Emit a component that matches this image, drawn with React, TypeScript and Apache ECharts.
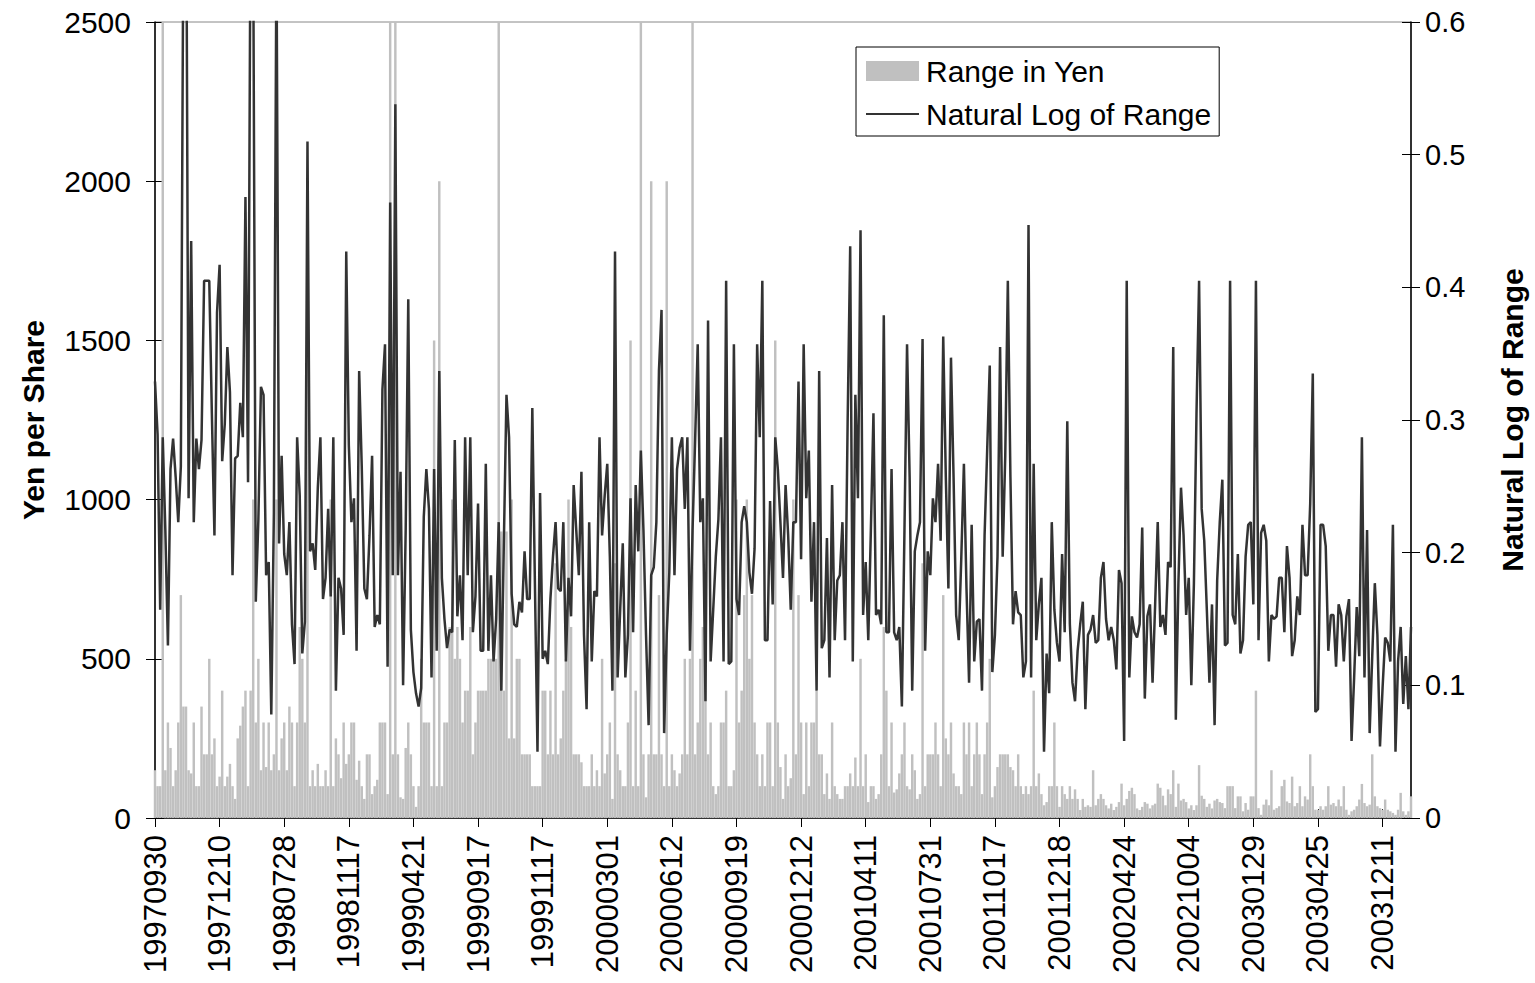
import React, { useEffect, useRef } from 'react';
import * as echarts from 'echarts';

const tickLabels = [
  '19970930', '19971210', '19980728', '19981117', '19990421', '19990917', '19991117',
  '20000301', '20000612', '20000919', '20001212', '20010411', '20010731', '20011017',
  '20011218', '20020424', '20021004', '20030129', '20030425', '20031211',
];

const rangeYen = [
  // 0-71
  150, 100, 100, 2600, 150, 300, 220, 100, 150, 300, 700, 350, 350, 150, 140, 300, 100, 100, 350, 200,
  200, 500, 200, 250, 100, 130, 400, 100, 130, 170, 100, 60, 250, 290, 350, 400, 100, 400, 1000, 300,
  500, 150, 300, 160, 300, 150, 200, 1000, 150, 250, 300, 150, 350, 300, 100, 300, 600, 500, 300, 2000,
  100, 150, 100, 170, 100, 100, 150, 100, 1000, 100, 250, 200,
  // 72-145
  125, 300, 170, 200, 300, 300, 120, 180, 100, 60, 200, 200, 75, 100, 120, 300, 300, 300, 75, 2600,
  200, 2600, 200, 65, 60, 220, 300, 200, 100, 35, 100, 500, 300, 300, 300, 100, 1500, 100, 2000, 100,
  300, 300, 600, 1000, 500, 600, 500, 300, 400, 400, 600, 200, 300, 400, 400, 400, 400, 500, 500, 500,
  500, 2600, 900, 400, 900, 250, 1000, 250, 500, 500, 200, 200, 200, 200,
  // 146-219
  100, 100, 100, 100, 400, 400, 200, 400, 200, 800, 200, 250, 400, 500, 1000, 600, 200, 200, 200, 175,
  100, 100, 100, 200, 100, 150, 100, 500, 140, 200, 300, 60, 800, 200, 150, 100, 100, 300, 1500, 100,
  400, 100, 2600, 200, 65, 200, 2000, 200, 200, 700, 200, 100, 2000, 100, 200, 150, 100, 140, 200, 500,
  200, 500, 2600, 200, 300, 500, 600, 700, 200, 300, 100, 75, 100, 300,
  // 220-292
  300, 400, 100, 100, 150, 1000, 300, 400, 700, 1000, 500, 700, 300, 200, 100, 200, 100, 300, 300, 100,
  1500, 300, 160, 60, 200, 100, 125, 1000, 200, 700, 300, 75, 300, 100, 300, 300, 400, 200, 200, 75,
  140, 60, 300, 100, 75, 60, 60, 100, 100, 140, 100, 190, 100, 500, 100, 200, 50, 100, 100, 60,
  75, 200, 600, 400, 100, 300, 80, 90, 140, 200, 300, 100, 90,
  // 293-366
  200, 150, 60, 75, 800, 100, 200, 200, 200, 300, 200, 100, 700, 250, 200, 300, 140, 100, 100, 75,
  300, 200, 300, 100, 200, 300, 200, 75, 200, 300, 500, 65, 100, 160, 200, 200, 200, 200, 160, 150,
  100, 200, 100, 75, 100, 75, 100, 400, 100, 140, 75, 40, 50, 100, 100, 300, 100, 35, 100, 75,
  60, 100, 60, 90, 60, 25, 60, 35, 40, 35, 150, 40, 60, 75,
  // 367-412
  60, 40, 30, 45, 25, 35, 50, 108, 40, 60, 85, 95, 75, 30, 25, 35, 50, 45, 30, 40,
  45, 108, 95, 70, 40, 90, 75, 150, 35, 108, 55, 60, 50, 30, 40, 25, 40, 166, 70, 60,
  35, 45, 30, 55, 60, 50,
  // 413-486
  47, 31, 100, 100, 100, 31, 68, 68, 21, 47, 26, 68, 68, 400, 31, 10, 42, 58, 40, 150,
  26, 31, 37, 100, 120, 52, 47, 130, 37, 47, 100, 37, 68, 58, 200, 100, 26, 26, 37, 26,
  37, 100, 42, 47, 37, 58, 37, 100, 26, 10, 21, 26, 37, 58, 107, 47, 37, 42, 200, 68,
  37, 31, 26, 58, 26, 21, 16, 10, 26, 79, 21, 10, 21, 68,
];

const lnRange = [
  // 0-71
  0.329, 0.289, 0.157, 0.287, 0.217, 0.130, 0.263, 0.286, 0.257, 0.223,
  0.265, 0.68, 0.75, 0.241, 0.435, 0.223, 0.286, 0.263, 0.285, 0.405,
  0.405, 0.405, 0.305, 0.213, 0.381, 0.417, 0.269, 0.297, 0.355, 0.321,
  0.183, 0.271, 0.273, 0.313, 0.287, 0.468, 0.253, 0.70, 0.66, 0.163,
  0.225, 0.325, 0.319, 0.183, 0.193, 0.078, 0.23, 0.66, 0.207, 0.273,
  0.199, 0.183, 0.223, 0.146, 0.116, 0.287, 0.243, 0.124, 0.148, 0.510,
  0.201, 0.207, 0.187, 0.249, 0.287, 0.165, 0.181, 0.233, 0.167, 0.287,
  0.096, 0.181,
  // 72-145
  0.173, 0.138, 0.427, 0.281, 0.223, 0.241, 0.126, 0.337, 0.265, 0.173,
  0.165, 0.213, 0.273, 0.144, 0.153, 0.146, 0.323, 0.357, 0.114, 0.464,
  0.183, 0.538, 0.183, 0.261, 0.100, 0.217, 0.391, 0.142, 0.110, 0.094,
  0.084, 0.098, 0.227, 0.263, 0.233, 0.106, 0.263, 0.126, 0.337, 0.181,
  0.150, 0.128, 0.142, 0.140, 0.285, 0.152, 0.183, 0.134, 0.287, 0.183,
  0.287, 0.140, 0.167, 0.237, 0.126, 0.126, 0.267, 0.126, 0.183, 0.118,
  0.150, 0.223, 0.096, 0.209, 0.319, 0.287, 0.169, 0.146, 0.144, 0.163,
  0.155, 0.201, 0.165, 0.165,
  // 146-219
  0.309, 0.177, 0.050, 0.245, 0.120, 0.126, 0.116, 0.165, 0.197, 0.223,
  0.173, 0.171, 0.223, 0.118, 0.181, 0.152, 0.251, 0.217, 0.183, 0.261,
  0.138, 0.082, 0.223, 0.118, 0.171, 0.167, 0.287, 0.213, 0.243, 0.267,
  0.197, 0.096, 0.427, 0.106, 0.157, 0.207, 0.106, 0.138, 0.241, 0.140,
  0.251, 0.201, 0.277, 0.217, 0.138, 0.070, 0.183, 0.189, 0.223, 0.337,
  0.383, 0.064, 0.138, 0.185, 0.287, 0.183, 0.263, 0.279, 0.287, 0.233,
  0.287, 0.126, 0.217, 0.285, 0.357, 0.223, 0.241, 0.088, 0.375, 0.118,
  0.157, 0.197, 0.225, 0.287,
  // 220-292
  0.118, 0.405, 0.116, 0.118, 0.357, 0.165, 0.153, 0.223, 0.235, 0.223,
  0.185, 0.169, 0.203, 0.357, 0.287, 0.405, 0.134, 0.134, 0.239, 0.161,
  0.287, 0.263, 0.223, 0.181, 0.251, 0.213, 0.157, 0.223, 0.223, 0.329,
  0.195, 0.357, 0.241, 0.277, 0.163, 0.223, 0.096, 0.337, 0.128, 0.134,
  0.211, 0.106, 0.251, 0.134, 0.179, 0.183, 0.223, 0.134, 0.297, 0.431,
  0.118, 0.319, 0.241, 0.443, 0.153, 0.193, 0.134, 0.217, 0.305, 0.153,
  0.157, 0.146, 0.379, 0.140, 0.140, 0.263, 0.140, 0.134, 0.144, 0.084,
  0.217, 0.357, 0.257,
  // 293-366
  0.096, 0.201, 0.213, 0.223, 0.361, 0.126, 0.201, 0.183, 0.241, 0.223,
  0.267, 0.209, 0.363, 0.257, 0.173, 0.347, 0.257, 0.153, 0.134, 0.197,
  0.267, 0.173, 0.102, 0.221, 0.118, 0.148, 0.150, 0.096, 0.213, 0.277,
  0.341, 0.110, 0.138, 0.197, 0.355, 0.197, 0.273, 0.405, 0.257, 0.146,
  0.171, 0.155, 0.153, 0.106, 0.118, 0.447, 0.106, 0.267, 0.134, 0.161,
  0.181, 0.050, 0.124, 0.094, 0.223, 0.157, 0.132, 0.118, 0.199, 0.140,
  0.299, 0.146, 0.102, 0.088, 0.126, 0.146, 0.163, 0.082, 0.138, 0.142,
  0.153, 0.132, 0.134, 0.181,
  // 367-439
  0.193, 0.150, 0.134, 0.144, 0.134, 0.112, 0.187, 0.177, 0.058, 0.405,
  0.106, 0.152, 0.140, 0.136, 0.146, 0.219, 0.090, 0.152, 0.161, 0.102,
  0.161, 0.223, 0.144, 0.153, 0.138, 0.193, 0.189, 0.355, 0.074, 0.177,
  0.249, 0.213, 0.153, 0.181, 0.100, 0.177, 0.305, 0.405, 0.233, 0.209,
  0.157, 0.102, 0.161, 0.070, 0.179, 0.223, 0.255, 0.130, 0.132, 0.405,
  0.153, 0.146, 0.199, 0.124, 0.134, 0.197, 0.221, 0.223, 0.161, 0.405,
  0.134, 0.215, 0.221, 0.209, 0.118, 0.153, 0.150, 0.152, 0.181, 0.181,
  0.140, 0.205, 0.181,
  // 440-486
  0.122, 0.134, 0.167, 0.153, 0.221, 0.183, 0.183, 0.237, 0.335, 0.080,
  0.082, 0.221, 0.221, 0.205, 0.126, 0.153, 0.153, 0.114, 0.161, 0.153,
  0.118, 0.152, 0.165, 0.058, 0.106, 0.159, 0.122, 0.287, 0.106, 0.217,
  0.064, 0.122, 0.177, 0.138, 0.054, 0.098, 0.136, 0.132, 0.118, 0.221,
  0.050, 0.118, 0.144, 0.086, 0.122, 0.082, 0.144,
];

const LABEL_STEP = 25;
const categories = rangeYen.map((_, i) => String(i));
const FONT = "'Liberation Sans', Arial, Helvetica, sans-serif";

export default function App() {
  const ref = useRef<HTMLDivElement>(null);

  useEffect(() => {
    if (!ref.current) return;
    const chart = echarts.init(ref.current, undefined, { renderer: 'svg' });
    const gridPos = { left: 155, right: 124, top: 22, bottom: 165 };
    chart.setOption({
      animation: false,
      backgroundColor: '#ffffff',
      textStyle: { fontFamily: FONT },
      grid: [
        { ...gridPos, show: true, borderColor: '#888888', borderWidth: 1, backgroundColor: 'transparent' },
        { ...gridPos },
      ],
      legend: {
        left: 856,
        top: 47,
        orient: 'vertical',
        backgroundColor: '#ffffff',
        borderColor: '#000000',
        borderWidth: 1,
        padding: [9, 8, 7, 10],
        itemWidth: 53,
        itemHeight: 20,
        itemGap: 13,
        symbolKeepAspect: true,
        textStyle: { fontSize: 30, color: '#000000', fontFamily: FONT, padding: [0, 0, 0, 2] },
        data: [
          { name: 'Range in Yen', icon: 'rect' },
          { name: 'Natural Log of Range', icon: 'path://M0 0 H53 V2 H0 Z' },
        ],
      },
      xAxis: [
        {
          type: 'category',
          gridIndex: 0,
          data: categories,
          boundaryGap: false,
          axisLine: { show: true, lineStyle: { color: '#000000', width: 1.5 } },
          axisTick: { show: true, interval: LABEL_STEP - 1, length: 9, lineStyle: { color: '#000000' } },
          axisLabel: {
            interval: LABEL_STEP - 1,
            rotate: 90,
            margin: 17,
            fontSize: 31,
            color: '#000000',
            fontFamily: FONT,
            formatter: (_v: string, idx: number) => tickLabels[idx / LABEL_STEP] ?? '',
          },
          splitLine: { show: false },
        },
        {
          type: 'category',
          gridIndex: 1,
          data: categories,
          boundaryGap: false,
          axisLine: { show: false },
          axisTick: { show: true, inside: true, interval: LABEL_STEP - 1, length: 9, lineStyle: { color: '#000000' } },
          axisLabel: { show: false },
          splitLine: { show: false },
        },
      ],
      yAxis: [
        {
          type: 'value',
          gridIndex: 0,
          min: 0,
          max: 2500,
          interval: 500,
          name: 'Yen per Share',
          nameLocation: 'middle',
          nameRotate: 90,
          nameGap: 107,
          nameTextStyle: { fontSize: 30, fontWeight: 'bold', color: '#000000', fontFamily: FONT },
          axisLine: { show: true, lineStyle: { color: '#000000', width: 1.5 } },
          axisTick: { show: true, length: 9, lineStyle: { color: '#000000' } },
          axisLabel: {
            fontSize: 30,
            color: '#000000',
            margin: 24,
            fontFamily: FONT,
            formatter: (v: number) => String(v),
          },
          splitLine: { show: false },
        },
        {
          type: 'value',
          gridIndex: 0,
          position: 'right',
          min: 0,
          max: 0.6,
          interval: 0.1,
          name: 'Natural Log of Range',
          nameLocation: 'middle',
          nameRotate: 90,
          nameGap: 86,
          nameTextStyle: { fontSize: 30, fontWeight: 'bold', color: '#000000', fontFamily: FONT },
          axisLine: { show: true, lineStyle: { color: '#000000', width: 1.5 } },
          axisTick: { show: true, length: 9, lineStyle: { color: '#000000' } },
          axisLabel: {
            fontSize: 29,
            color: '#000000',
            margin: 14,
            fontFamily: FONT,
            formatter: (v: number) => String(Math.round(v * 10) / 10),
          },
          splitLine: { show: false },
        },
        {
          type: 'value',
          gridIndex: 1,
          min: 0,
          max: 2500,
          interval: 500,
          axisLine: { show: false },
          axisTick: { show: true, inside: true, length: 9, lineStyle: { color: '#000000' } },
          axisLabel: { show: false },
          splitLine: { show: false },
        },
        {
          type: 'value',
          gridIndex: 1,
          position: 'right',
          min: 0,
          max: 0.6,
          interval: 0.1,
          axisLine: { show: false },
          axisTick: { show: true, inside: true, length: 9, lineStyle: { color: '#000000' } },
          axisLabel: { show: false },
          splitLine: { show: false },
        },
      ],
      series: [
        {
          name: 'Range in Yen',
          type: 'bar',
          xAxisIndex: 0,
          yAxisIndex: 0,
          data: rangeYen,
          barCategoryGap: '5%',
          itemStyle: { color: '#c0c0c0' },
          clip: true,
          z: 2,
        },
        {
          name: 'Natural Log of Range',
          type: 'line',
          xAxisIndex: 0,
          yAxisIndex: 1,
          data: lnRange,
          symbol: 'none',
          showSymbol: false,
          lineStyle: { color: '#333333', width: 2.5 },
          itemStyle: { color: '#333333' },
          clip: true,
          z: 3,
        },
      ],
    });
    return () => chart.dispose();
  }, []);

  return (
    <div
      ref={ref}
      style={{ position: 'fixed', left: 0, top: 0, width: 1535, height: 983, background: '#fff' }}
    />
  );
}
